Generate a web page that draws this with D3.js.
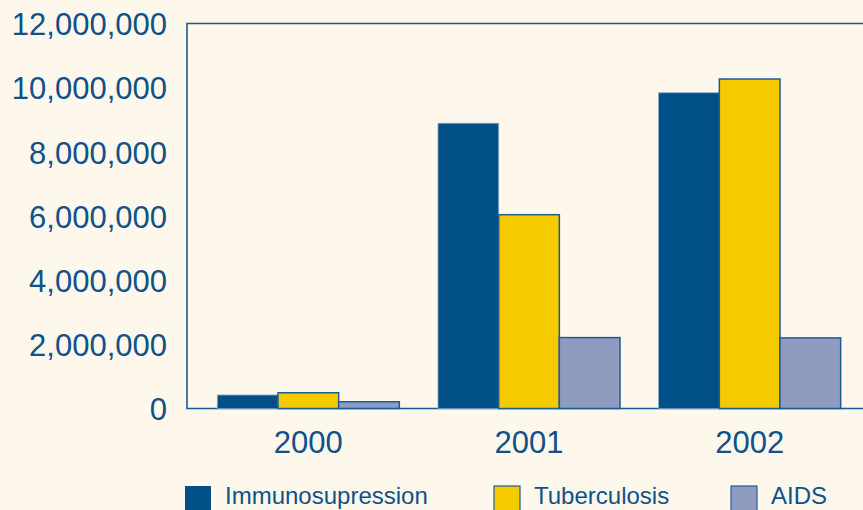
<!DOCTYPE html>
<html><head><meta charset="utf-8">
<script src="https://cdn.jsdelivr.net/npm/d3@7"></script>
<style>
html,body{margin:0;padding:0;background:#fef7ec;}
svg{display:block;}
text{font-family:"Liberation Sans",Arial,sans-serif;fill:#0f5189;}
</style></head>
<body><svg id="c" width="863" height="510"></svg>
<script>
const categories = ["2000", "2001", "2002"];
const seriesNames = ["Immunosupression", "Tuberculosis", "AIDS"];
const immunosupression = [420000, 8890000, 9840000];
const tuberculosis = [490000, 6040000, 10270000];
const aids = [210000, 2210000, 2200000];
const yTicks = [0, 2000000, 4000000, 6000000, 8000000, 10000000, 12000000];
const colors = ["#004f86", "#f5cb00", "#8f9cbf"];

const seriesValues = [immunosupression, tuberculosis, aids];
const svg = d3.select("#c");
const W = 863, H = 510;
svg.append("rect").attr("width", W).attr("height", H).attr("fill", "#fef7ec");

const plotLeft = 187, plotTop = 23.5, plotBottom = 408.5;
const y = d3.scaleLinear().domain([0, 12000000]).range([plotBottom, plotTop]);
const x0 = d3.scaleBand().domain(categories).range([198, 860]);
const gw = 182;
const x1 = d3.scaleBand().domain(seriesNames)
  .range([(x0.bandwidth() - gw) / 2, (x0.bandwidth() + gw) / 2]);

// frame
svg.append("path")
  .attr("d", `M${W + 5},${plotTop}H${plotLeft}V${plotBottom}H${W + 5}`)
  .attr("fill", "none").attr("stroke", "#1a5a90").attr("stroke-width", 1.6);

// bars
categories.forEach((c, ci) => {
  const g = svg.append("g").attr("transform", `translate(${x0(c)},0)`);
  seriesNames.forEach((s, si) => {
    const v = seriesValues[si][ci];
    g.append("rect")
      .attr("x", x1(s)).attr("width", x1.bandwidth())
      .attr("y", y(v)).attr("height", y(0) - y(v))
      .attr("fill", colors[si])
      .attr("stroke", si === 0 ? "#7fa3c2" : "#1d5d95")
      .attr("stroke-width", si === 0 ? 0.8 : 1.5);
  });
});

// y axis labels
const fmt = d3.format(",");
const yAxis = d3.axisLeft(y).tickValues(yTicks).tickFormat(fmt).tickSize(0).tickPadding(0);
const ya = svg.append("g").attr("transform", "translate(167,0)").call(yAxis);
ya.select(".domain").remove();
ya.selectAll("text").attr("font-size", 31).attr("fill", "#0f5189")
  .style("font-family", "Liberation Sans, Arial, sans-serif").attr("dy", "0.36em").attr("x", 0);

// x axis labels
const xAxis = d3.axisBottom(x0).tickSize(0).tickPadding(0);
const xa = svg.append("g").attr("transform", `translate(0,${plotBottom})`).call(xAxis);
xa.select(".domain").remove();
xa.selectAll("text").attr("font-size", 31).attr("fill", "#0f5189")
  .style("font-family", "Liberation Sans, Arial, sans-serif").attr("dy", 0).attr("y", 44);

// legend
const legX = [185, 494, 731];
seriesNames.forEach((s, i) => {
  svg.append("rect").attr("x", legX[i]).attr("y", 486).attr("width", 26).attr("height", 28)
    .attr("fill", colors[i]).attr("stroke", i === 0 ? "none" : "#1d5d95").attr("stroke-width", 1.2);
  svg.append("text").attr("x", legX[i] + 40).attr("y", 504).attr("font-size", 24).text(s);
});
</script></body></html>
